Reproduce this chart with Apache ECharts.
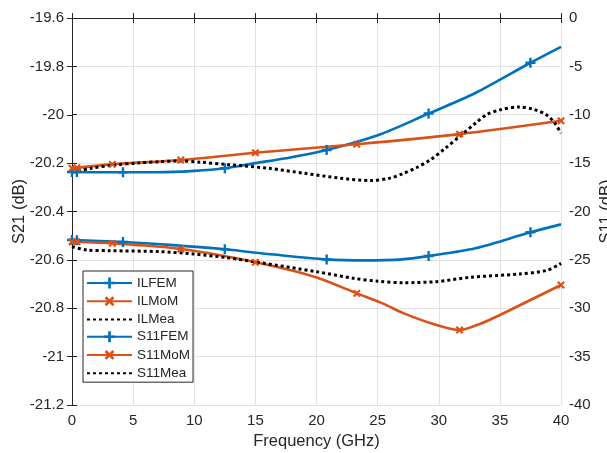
<!DOCTYPE html>
<html>
<head>
<meta charset="utf-8">
<title>S21 / S11</title>
<script src="https://cdn.jsdelivr.net/npm/echarts@6/dist/echarts.min.js"></script>
<style>
  html, body { margin: 0; padding: 0; background: #fff; }
  #chart { width: 607px; height: 453px; }
</style>
</head>
<body>
<div id="chart"></div>
<script>
// insertion loss (left axis, S21 dB)
const ilFemFreq = [0, 0.4, 2, 4.17, 7, 10, 12.5, 15, 17.5, 20.83, 25, 29.17, 33, 37.5, 40]
const ilFemVal = [-20.237, -20.237, -20.238, -20.238, -20.238, -20.232, -20.221, -20.2, -20.18, -20.146, -20.085, -19.995, -19.91, -19.785, -19.719]
const ilFemMarks = [0, 1, 3, 6, 9, 11, 13]

const ilMomFreq = [0, 0.4, 3.3, 8.9, 15, 23.3, 31.7, 40]
const ilMomVal = [-20.221, -20.219, -20.205, -20.187, -20.157, -20.122, -20.08, -20.025]
const ilMomMarks = [0, 1, 2, 3, 4, 5, 6, 7]

const ilMeaFreq = [0, 1.5, 3.35, 5.5, 7.2, 8.8, 10.5, 12.7, 16, 19, 21.9, 24.4, 26, 27.1, 28.2, 29.3, 30.5, 31.7, 33, 33.9, 35, 36.6, 37.8, 38.8, 39.5, 40]
const ilMeaVal = [-20.237, -20.222, -20.208, -20.199, -20.194, -20.191, -20.196, -20.206, -20.221, -20.242, -20.262, -20.272, -20.262, -20.243, -20.218, -20.187, -20.14, -20.09, -20.035, -20.0, -19.98, -19.968, -19.978, -20.0, -20.035, -20.077]

// return loss (right axis, S11 dB)
const s11FemFreq = [0, 0.4, 4.17, 8, 12.5, 16.5, 20.83, 24, 27, 29.17, 33, 37.5, 40]
const s11FemVal = [-22.95, -22.96, -23.15, -23.45, -23.91, -24.45, -24.95, -25.05, -24.95, -24.6, -23.8, -22.15, -21.33]
const s11FemMarks = [0, 1, 2, 4, 6, 9, 11]

const s11MomFreq = [0, 0.4, 3.3, 6, 8.9, 12, 15, 18, 20.3, 23.3, 25.5, 27.1, 29.5, 31.7, 33.5, 35, 37.5, 40]
const s11MomVal = [-23.12, -23.13, -23.29, -23.52, -23.88, -24.5, -25.25, -26.1, -26.95, -28.46, -29.55, -30.5, -31.6, -32.25, -31.55, -30.7, -29.15, -27.6]
const s11MomMarks = [0, 1, 2, 4, 6, 9, 13, 17]

const s11MeaFreq = [0, 1.2, 3.1, 7.2, 9.9, 12.65, 15.4, 20, 23, 25, 27.1, 29.8, 32.6, 36.6, 38.8, 40]
const s11MeaVal = [-23.64, -23.98, -24.05, -24.15, -24.39, -24.77, -25.29, -26.22, -26.9, -27.2, -27.36, -27.25, -26.8, -26.46, -26.1, -25.36]

const xRange = [0, 40, 5]
const leftRange = [-21.2, -19.6, 0.2]
const rightRange = [-40, 0, 5]

const BLUE = '#0072BD'
const ORANGE = '#D95319'
const INK = '#262626'
const FONT = 'Liberation Sans'

const PLUS = 'path://M3.8,0H6.2V3.8H10V6.2H6.2V10H3.8V6.2H0V3.8H3.8Z'

// build [x, y] points, only the marker indices get a symbol
function toData(freq, val, marks) {
  return freq.map((f, i) => {
    const item = { value: [f, val[i]] }
    if (!marks || marks.indexOf(i) < 0) item.symbol = 'none'
    return item
  })
}

function lineSeries(name, yIdx, freq, val, marks, color, kind) {
  const s = {
    name,
    type: 'line',
    yAxisIndex: yIdx,
    data: toData(freq, val, marks),
    smooth: 0.3,
    lineStyle: { color, width: 2.6 },
    itemStyle: { color },
    showSymbol: true,
    symbol: 'none',
    z: 3
  }
  if (kind === 'plus') {
    s.symbol = PLUS
    s.symbolSize = 10
  } else if (kind === 'x') {
    s.symbol = PLUS
    s.symbolSize = 9
    s.symbolRotate = 45
  } else {
    s.lineStyle.type = [3, 3]
    s.lineStyle.width = 3
  }
  return s
}

// dotted entries: hide the symbol in the legend, keep the line
const legendNames = ['ILFEM', 'ILMoM', 'ILMea', 'S11FEM', 'S11MoM', 'S11Mea']
const legendData = legendNames.map(n => n.endsWith('Mea') ? { name: n, itemStyle: { opacity: 0 } } : { name: n })

const chart = echarts.init(document.getElementById('chart'), null, { renderer: 'canvas' })

const option = {
  animation: false,
  textStyle: { fontFamily: FONT },
  grid: { left: 72, right: 46, top: 18, bottom: 48, outerBoundsMode: 'none' },
  legend: {
    orient: 'vertical',
    left: 83,
    top: 271,
    itemWidth: 45,
    itemHeight: 14,
    itemGap: 3.3,
    padding: [5, 3, 2, 3],
    backgroundColor: '#fff',
    borderColor: INK,
    borderWidth: 1,
    borderRadius: 0,
    textStyle: { fontFamily: FONT, fontSize: 13.5, color: INK, lineHeight: 14 },
    data: legendData
  },
  xAxis: [{
    type: 'value',
    min: xRange[0], max: xRange[1], interval: xRange[2],
    name: 'Frequency (GHz)',
    nameLocation: 'middle',
    nameGap: 28,
    nameTextStyle: { fontFamily: FONT, fontSize: 16.5, color: INK },
    axisLine: { lineStyle: { color: INK } },
    axisTick: { inside: true, length: 5, lineStyle: { color: INK } },
    axisLabel: { fontFamily: FONT, fontSize: 15, color: INK, margin: 8 },
    splitLine: { show: true, lineStyle: { color: '#e3e3e3' } }
  }, {
    // top edge ticks only
    type: 'value',
    position: 'top',
    min: xRange[0], max: xRange[1], interval: xRange[2],
    axisLine: { show: false },
    axisTick: { inside: true, length: 5, lineStyle: { color: INK } },
    axisLabel: { show: false },
    splitLine: { show: false }
  }],
  yAxis: [{
    type: 'value',
    min: leftRange[0], max: leftRange[1], interval: leftRange[2],
    name: 'S21 (dB)',
    nameLocation: 'middle',
    nameGap: 44,
    nameMoveOverlap: false,
    nameRotate: 90,
    nameTextStyle: { fontFamily: FONT, fontSize: 16.5, color: INK },
    axisLine: { show: true, lineStyle: { color: INK } },
    axisTick: { show: true, inside: true, length: 5, lineStyle: { color: INK } },
    axisLabel: {
      fontFamily: FONT, fontSize: 15, color: INK, margin: 8,
      formatter: v => String(+v.toFixed(1))
    },
    splitLine: { show: true, lineStyle: { color: '#e3e3e3' } }
  }, {
    type: 'value',
    position: 'right',
    min: rightRange[0], max: rightRange[1], interval: rightRange[2],
    name: 'S11 (dB)',
    nameLocation: 'middle',
    nameGap: 37,
    nameMoveOverlap: false,
    nameRotate: 90,
    nameTextStyle: { fontFamily: FONT, fontSize: 16.5, color: INK },
    axisLine: { show: true, lineStyle: { color: INK } },
    axisTick: { show: true, inside: true, length: 5, lineStyle: { color: INK } },
    axisLabel: { fontFamily: FONT, fontSize: 15, color: INK, margin: 8 },
    splitLine: { show: false }
  }],
  series: [
    lineSeries('ILFEM', 0, ilFemFreq, ilFemVal, ilFemMarks, BLUE, 'plus'),
    lineSeries('ILMoM', 0, ilMomFreq, ilMomVal, ilMomMarks, ORANGE, 'x'),
    lineSeries('ILMea', 0, ilMeaFreq, ilMeaVal, null, '#000', 'dot'),
    lineSeries('S11FEM', 1, s11FemFreq, s11FemVal, s11FemMarks, BLUE, 'plus'),
    lineSeries('S11MoM', 1, s11MomFreq, s11MomVal, s11MomMarks, ORANGE, 'x'),
    lineSeries('S11Mea', 1, s11MeaFreq, s11MeaVal, null, '#000', 'dot')
  ]
}

chart.setOption(option)
</script>
</body>
</html>
